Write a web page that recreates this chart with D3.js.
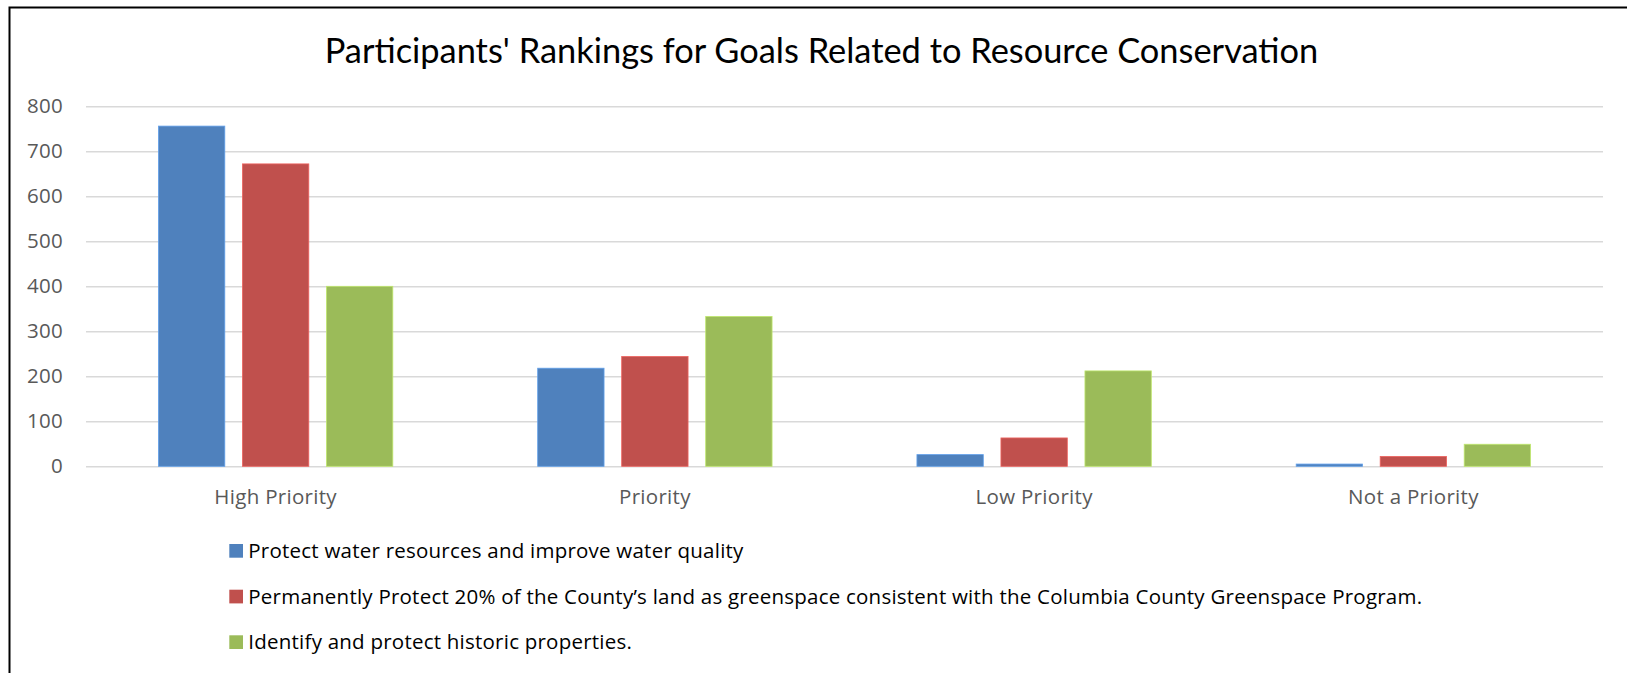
<!DOCTYPE html>
<html>
<head>
<meta charset="utf-8">
<script src="https://cdn.jsdelivr.net/npm/d3@7/dist/d3.min.js"></script>
<style>
  html, body { margin: 0; padding: 0; background: #fff; }
  svg { display: block; }
</style>
</head>
<body>
<svg id="chart" width="1627" height="673"></svg>
<script>
const title = "Participants' Rankings for Goals Related to Resource Conservation";
const categories = ["High Priority", "Priority", "Low Priority", "Not a Priority"];
const seriesNames = [
  "Protect water resources and improve water quality",
  "Permanently Protect 20% of the County\u2019s land as greenspace consistent with the Columbia County Greenspace Program.",
  "Identify and protect historic properties."
];
const waterValues = [756, 218, 26, 5];
const greenspaceValues = [672, 244, 63, 22];
const historicValues = [400, 333, 212, 49];
const seriesValues = [waterValues, greenspaceValues, historicValues];
const seriesColors = ["#4F81BD", "#C0504D", "#9BBB59"];
const yTicks = [0, 100, 200, 300, 400, 500, 600, 700, 800];

const svg = d3.select("#chart");
const W = 1627, H = 673;
const plot = { left: 86, right: 1603, top: 106.3, bottom: 466.3 };
const labelFont = "'Open Sans', Lato, sans-serif";

// frame (left and top border)
svg.append("path")
  .attr("d", `M9.5,${H} L9.5,7.5 L${W},7.5`)
  .attr("fill", "none").attr("stroke", "#000").attr("stroke-width", 2);

// title
svg.append("text")
  .attr("x", 821.5).attr("y", 63.3)
  .attr("text-anchor", "middle")
  .style("font-family", "Lato, sans-serif")
  .style("font-size", "34.4px")
  .attr("fill", "#000")
  .text(title);

const y = d3.scaleLinear().domain([0, 800]).range([plot.bottom, plot.top]);
const x0 = d3.scaleBand().domain(categories).range([plot.left, plot.right]).paddingInner(0).paddingOuter(0);
const groupFrac = 0.618;
const x1 = d3.scaleBand().domain(d3.range(seriesNames.length))
  .range([x0.bandwidth() * (1 - groupFrac) / 2, x0.bandwidth() * (1 + groupFrac) / 2])
  .paddingInner(0.21);

// gridlines + y labels
const yAxis = d3.axisLeft(y).tickValues(yTicks).tickSize(-(plot.right - plot.left)).tickPadding(23);
const gy = svg.append("g").attr("transform", `translate(${plot.left},0)`).call(yAxis);
gy.select(".domain").remove();
gy.selectAll(".tick line").attr("stroke", "#d9d9d9").attr("stroke-width", 1.5);
gy.selectAll(".tick text")
  .attr("fill", "#595959")
  .style("font-family", labelFont)
  .style("font-size", "20.5px")
  .style("letter-spacing", "0.3px");

// bars
const groups = svg.append("g").selectAll("g")
  .data(categories)
  .join("g")
  .attr("transform", d => `translate(${x0(d)},0)`);

groups.selectAll("rect")
  .data((c, ci) => seriesValues.map((vals, si) => ({ si, v: vals[ci] })))
  .join("rect")
  .attr("x", d => x1(d.si))
  .attr("width", x1.bandwidth())
  .attr("y", d => y(d.v))
  .attr("height", d => y(0) - y(d.v))
  .attr("fill", d => seriesColors[d.si])
  .attr("stroke", d => d3.color(seriesColors[d.si]).brighter(0.6))
  .attr("stroke-width", 0.8);

// x axis labels
const xAxis = d3.axisBottom(x0).tickSize(0).tickPadding(23);
const gx = svg.append("g").attr("transform", `translate(0,${plot.bottom})`).call(xAxis);
gx.select(".domain").remove();
gx.selectAll(".tick text")
  .attr("fill", "#595959")
  .style("font-family", labelFont)
  .style("font-size", "20.5px")
  .style("letter-spacing", "0.3px");

// legend
const legend = svg.append("g");
const legendRows = [551, 596.7, 642.3];
seriesNames.forEach((name, i) => {
  const g = legend.append("g").attr("transform", `translate(229.3,${legendRows[i]})`);
  g.append("rect").attr("x", 0).attr("y", -7).attr("width", 13.7).attr("height", 13.7)
    .attr("fill", seriesColors[i]);
  g.append("text").attr("x", 19).attr("y", 6.8)
    .style("font-family", labelFont)
    .style("font-size", "20.5px")
    .style("letter-spacing", "0.23px")
    .attr("fill", "#000").text(name);
});
</script>
</body>
</html>
